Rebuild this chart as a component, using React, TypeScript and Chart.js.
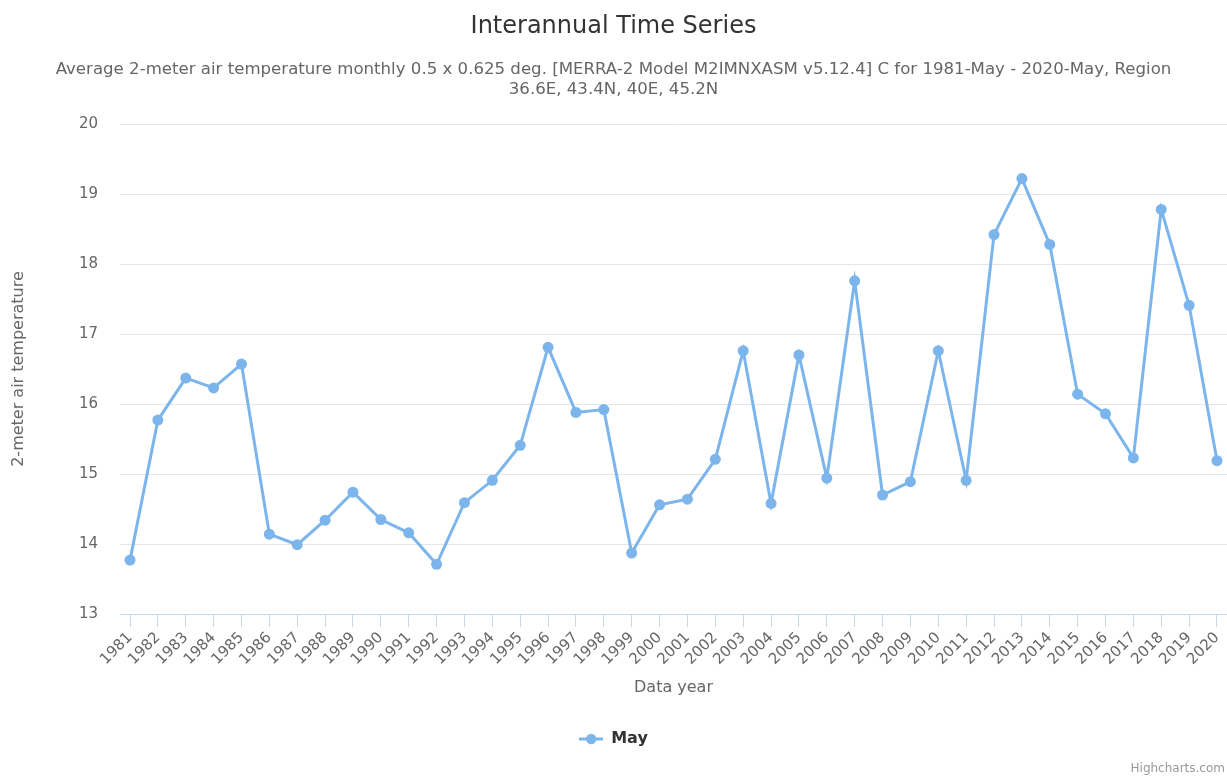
import React, { useEffect, useRef } from "react";
import { Chart, registerables } from "chart.js";

Chart.register(...registerables);

const chartTitle = "Interannual Time Series";
const chartSubtitle = [
  "Average 2-meter air temperature monthly 0.5 x 0.625 deg. [MERRA-2 Model M2IMNXASM v5.12.4] C for 1981-May - 2020-May, Region",
  "36.6E, 43.4N, 40E, 45.2N",
];
const yAxisTitle = "2-meter air temperature";
const xAxisTitle = "Data year";
const seriesName = "May";
const creditText = "Highcharts.com";

const years = [
  1981, 1982, 1983, 1984, 1985, 1986, 1987, 1988, 1989, 1990,
  1991, 1992, 1993, 1994, 1995, 1996, 1997, 1998, 1999, 2000,
  2001, 2002, 2003, 2004, 2005, 2006, 2007, 2008, 2009, 2010,
  2011, 2012, 2013, 2014, 2015, 2016, 2017, 2018, 2019, 2020,
];

const mayValues = [
  13.77, 15.77, 16.37, 16.23, 16.57, 14.14, 13.99, 14.34, 14.74, 14.35,
  14.16, 13.71, 14.59, 14.91, 15.41, 16.81, 15.88, 15.92, 13.87, 14.56,
  14.64, 15.21, 16.76, 14.58, 16.70, 14.94, 17.76, 14.70, 14.89, 16.76,
  14.91, 18.42, 19.22, 18.28, 16.14, 15.86, 15.23, 18.78, 17.41, 15.19,
];

const yMin = 13;
const yMax = 20;
const yStep = 1;

const FONT = "'DejaVu Sans', sans-serif";
const LINE_COLOR = "#7cb5ec";

export default function App() {
  const canvasRef = useRef<HTMLCanvasElement | null>(null);

  useEffect(() => {
    const canvas = canvasRef.current;
    if (!canvas) return;

    // legend symbol: line with a circle in the middle
    const sym = document.createElement("canvas");
    sym.width = 24;
    sym.height = 12;
    const sctx = sym.getContext("2d")!;
    sctx.strokeStyle = LINE_COLOR;
    sctx.lineWidth = 3;
    sctx.beginPath();
    sctx.moveTo(0, 6);
    sctx.lineTo(24, 6);
    sctx.stroke();
    sctx.fillStyle = LINE_COLOR;
    sctx.beginPath();
    sctx.arc(12, 6, 5.2, 0, Math.PI * 2);
    sctx.fill();

    const creditPlugin = {
      id: "credit",
      afterDraw(chart: any) {
        const ctx = chart.ctx;
        ctx.save();
        ctx.font = `12px ${FONT}`;
        ctx.fillStyle = "#999999";
        ctx.textAlign = "right";
        ctx.textBaseline = "middle";
        ctx.fillText(creditText, chart.width - 2, 769);
        ctx.restore();
      },
    };

    const chart = new Chart(canvas, {
      type: "line",
      data: {
        datasets: [
          {
            label: seriesName,
            data: years.map((y, i) => ({ x: y, y: mayValues[i] })),
            borderColor: LINE_COLOR,
            backgroundColor: LINE_COLOR,
            borderWidth: 3,
            pointRadius: 5.5,
            pointHoverRadius: 5.5,
            pointBackgroundColor: LINE_COLOR,
            pointBorderWidth: 0,
            tension: 0,
            fill: false,
          },
        ],
      },
      options: {
        responsive: false,
        maintainAspectRatio: false,
        animation: false,
        layout: { autoPadding: false, padding: { top: 0, left: 0, right: 0, bottom: 19 } },
        plugins: {
          title: {
            display: true,
            text: chartTitle,
            color: "#333333",
            font: { family: FONT, size: 24, weight: "normal" },
            padding: { top: 12.3, bottom: 0 },
          },
          subtitle: {
            display: true,
            text: chartSubtitle,
            color: "#666666",
            font: { family: FONT, size: 16.6, weight: "normal", lineHeight: 1.2 },
            padding: { top: 18.9, bottom: 24.16 },
          },
          legend: {
            display: true,
            position: "bottom",
            labels: {
              usePointStyle: true,
              pointStyle: sym as any,
              pointStyleWidth: 24,
              padding: 10,
              color: "#333333",
              font: { family: FONT, size: 16, weight: "bold" },
            },
          },
          tooltip: { enabled: false },
        },
        scales: {
          x: {
            type: "linear",
            min: 1980.641,
            max: 2020.359,
            afterFit(scale: any) {
              scale.height = 107;
              scale.paddingLeft = 0;
              scale.paddingRight = 0;
            },
            ticks: {
              stepSize: 1,
              includeBounds: false,
              autoSkip: false,
              maxRotation: 45,
              minRotation: 45,
              padding: 2,
              color: "#666666",
              font: { family: FONT, size: 15 },
              callback: (v: any) => String(v),
            },
            grid: {
              display: true,
              drawOnChartArea: false,
              drawTicks: true,
              tickLength: 13,
              color: "#ccd6eb",
              lineWidth: 1,
            },
            border: { display: true, color: "#ccd6eb", width: 1 },
            title: {
              display: true,
              text: xAxisTitle,
              color: "#666666",
              font: { family: FONT, size: 16 },
              padding: { top: 0, bottom: 24 },
            },
          },
          y: {
            type: "linear",
            min: yMin,
            max: yMax,
            afterFit(scale: any) {
              scale.width = 120;
            },
            ticks: {
              stepSize: yStep,
              padding: 22,
              color: "#666666",
              font: { family: FONT, size: 15 },
            },
            grid: {
              color: "#e6e6e6",
              lineWidth: 1,
              drawTicks: false,
            },
            border: { display: false },
            title: {
              display: true,
              text: yAxisTitle,
              color: "#666666",
              font: { family: FONT, size: 16 },
              padding: { top: 9, bottom: 0 },
            },
          },
        },
      },
      plugins: [creditPlugin],
    } as any);

    return () => chart.destroy();
  }, []);

  return (
    <div style={{ position: "fixed", left: 0, top: 0, width: 1227, height: 776, background: "#ffffff" }}>
      <canvas ref={canvasRef} width={1227} height={776} style={{ display: "block" }} />
    </div>
  );
}
